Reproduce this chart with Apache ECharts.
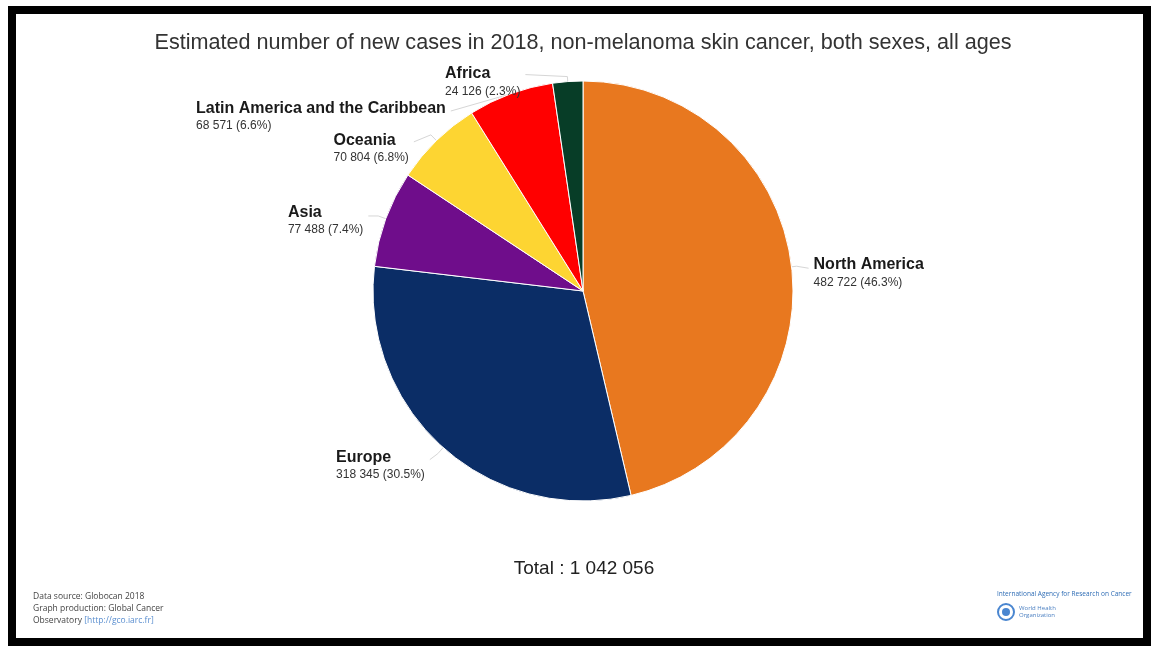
<!DOCTYPE html>
<html>
<head>
<meta charset="utf-8">
<script src="https://cdn.jsdelivr.net/npm/echarts@6/dist/echarts.min.js"></script>
<style>
html,body{margin:0;padding:0;background:#fff;}
#chart{width:1153px;height:646px;}
</style>
</head>
<body>
<div id="chart"></div>
<script>
// ---- data ----
const titleText = 'Estimated number of new cases in 2018, non-melanoma skin cancer, both sexes, all ages';
const regions = ['North America', 'Europe', 'Asia', 'Oceania', 'Latin America and the Caribbean', 'Africa'];
const cases = [482722, 318345, 77488, 70804, 68571, 24126];
const sourceLines = ['Data source: Globocan 2018', 'Graph production: Global Cancer', 'Observatory '];
const sourceLink = '[http://gco.iarc.fr]';
const agencyText = 'International Agency for Research on Cancer';
const whoLines = ['World Health', 'Organization'];

// ---- helpers ----
const total = cases.reduce((a, b) => a + b, 0);
const fmt = n => String(n).replace(/\B(?=(\d{3})+(?!\d))/g, ' ');
const pct = v => (v / total * 100).toFixed(1);

// label line tuning (layout only)
const tune = [
  { len: 5, len2: 12, dy: 7, lineDy: 2 },
  { len: 8, len2: 8, dy: 12, lineDy: 6 },
  { len: 8, len2: 10, dy: 5, lineDy: 0 },
  { len: 8, len2: 17, dy: 14, lineDy: 7 },
  { len: 2, len2: 59, dy: 25, lineDy: 19, straight: true },
  { len: 5, len2: 42, dy: 6, lineDy: -2 }
];

const chart = echarts.init(document.getElementById('chart'), null, { renderer: 'canvas' });
const FONT = '"Liberation Sans", Arial, sans-serif';
const SMALL = '"Open Sans", "DejaVu Sans", sans-serif';

const option = {
  backgroundColor: '#ffffff',
  animation: false,
  color: ['#E8781F', '#0B2D66', '#6F0D8B', '#FDD532', '#FF0000', '#073D27'],
  series: [{
    type: 'pie',
    center: [583, 291],
    radius: 210,
    startAngle: 90,
    clockwise: true,
    avoidLabelOverlap: false,
    silent: true,
    itemStyle: { borderColor: '#ffffff', borderWidth: 1 },
    emphasis: { disabled: true },
    label: {
      show: true,
      position: 'outside',
      distanceToLabelLine: 5,
      formatter: p => '{n|' + p.name + '}\n{v|' + fmt(p.value) + ' (' + pct(p.value) + '%)}',
      rich: {
        n: { fontFamily: FONT, fontSize: 16, fontWeight: 'bold', color: '#1a1a1a', lineHeight: 18, align: 'left' },
        v: { fontFamily: FONT, fontSize: 12, color: '#333333', lineHeight: 17, align: 'left' }
      }
    },
    labelLine: { show: true, smooth: false, lineStyle: { color: '#d6d6d6', width: 1 } },
    labelLayout: function (p) {
      const t = tune[p.dataIndex];
      const out = { dy: t.dy };
      const pts = p.labelLinePoints;
      if (pts && pts.length >= 3) {
        const end = [pts[2][0], pts[2][1] + t.lineDy];
        out.labelLinePoints = t.straight ? [pts[0].slice(), end] : [pts[0].slice(), pts[1].slice(), end];
      }
      return out;
    },
    data: regions.map((n, i) => ({
      name: n,
      value: cases[i],
      labelLine: { length: tune[i].len, length2: tune[i].len2 }
    }))
  }],
  graphic: [
    { type: 'rect', silent: true, z: 100,
      shape: { x: 12, y: 10, width: 1135, height: 632 },
      style: { fill: 'none', stroke: '#000', lineWidth: 8 } },
    { type: 'text', x: 583, y: 43, silent: true,
      style: { text: titleText, font: '21.6px ' + FONT, fill: '#333333', textAlign: 'center', textVerticalAlign: 'middle' } },
    { type: 'text', x: 584, y: 569, silent: true,
      style: { text: 'Total : ' + fmt(total), font: '19px ' + FONT, fill: '#222222', textAlign: 'center', textVerticalAlign: 'middle' } },
    { type: 'text', x: 33, y: 597, silent: true,
      style: { text: sourceLines[0], font: '8.5px ' + SMALL, fill: '#444', textVerticalAlign: 'middle' } },
    { type: 'text', x: 33, y: 609, silent: true,
      style: { text: sourceLines[1], font: '8.5px ' + SMALL, fill: '#444', textVerticalAlign: 'middle' } },
    { type: 'text', x: 33, y: 621, silent: true,
      style: { text: '{a|' + sourceLines[2] + '}{b|' + sourceLink + '}', textVerticalAlign: 'middle',
        rich: { a: { fontFamily: SMALL, fontSize: 8.5, fill: '#444', color: '#444' },
                b: { fontFamily: SMALL, fontSize: 8.5, fill: '#5b8fd0', color: '#5b8fd0' } } } },
    { type: 'text', x: 997, y: 594, silent: true,
      style: { text: agencyText, font: '6.5px ' + SMALL, fill: '#2f6db5', textVerticalAlign: 'middle' } },
    { type: 'circle', silent: true, shape: { cx: 1006, cy: 612, r: 8 },
      style: { fill: '#ffffff', stroke: '#4a86d0', lineWidth: 2 } },
    { type: 'circle', silent: true, shape: { cx: 1006, cy: 612, r: 4 },
      style: { fill: '#4a86d0' } },
    { type: 'text', x: 1019, y: 608, silent: true,
      style: { text: whoLines[0], font: '6px ' + SMALL, fill: '#4a7fc1', textVerticalAlign: 'middle' } },
    { type: 'text', x: 1019, y: 615, silent: true,
      style: { text: whoLines[1], font: '6px ' + SMALL, fill: '#4a7fc1', textVerticalAlign: 'middle' } }
  ]
};
chart.setOption(option);
</script>
</body>
</html>
